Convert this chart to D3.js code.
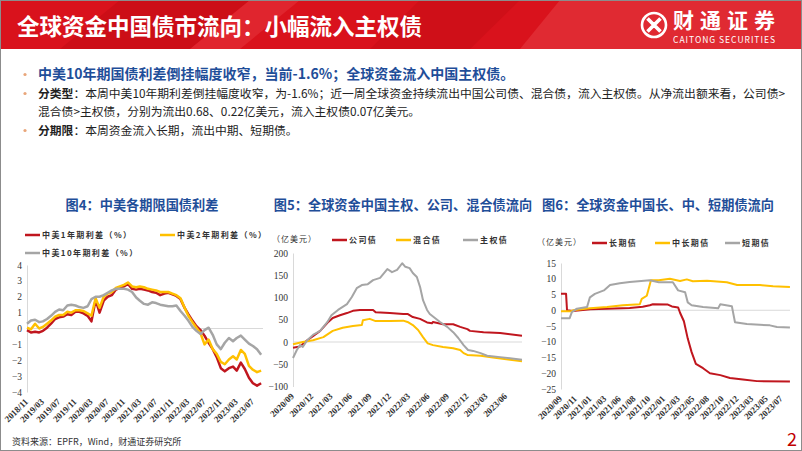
<!DOCTYPE html>
<html>
<head>
<meta charset="utf-8">
<script src="https://cdn.jsdelivr.net/npm/d3@7"></script>
<style>
  body { margin: 0; background: #fff; }
  svg { display: block; }
  text { font-family: "Noto Sans CJK SC", "Noto Sans", sans-serif; }
  .num text, text.num { font-family: "Liberation Serif", serif; }
</style>
</head>
<body>
<div id="slide"></div>
<script>
// ---------- data ----------
// Fig 4: monthly spreads, 2018/11 .. 2023/09
const spreadStart = '2018/11'
const spreadEnd = '2023/09'
const spread1y = [
  -0.1, -0.25, -0.2, -0.25, -0.15, 0.05, 0.3, 0.6, 0.7, 0.75,
  0.9, 0.85, 1.05, 1.05, 0.95, 0.8, 0.45, 1.8, 1.0, 1.75,
  2.0, 2.1, 2.45, 2.55, 2.65, 2.8, 2.5, 2.45, 2.5, 2.45,
  2.4, 2.3, 2.25, 2.1, 2.2, 2.25, 2.15, 2.05, 1.85, 1.3,
  0.9, 0.5, 0.15, -0.1, -0.45, -0.9, -1.3, -1.8, -2.5, -2.7,
  -2.5, -2.4, -2.65, -2.15, -2.55, -3.1, -3.45, -3.6, -3.45
]
const spread2y = [
  0.05, -0.05, 0.3, 0.0, 0.1, 0.3, 0.5, 0.75, 0.85, 0.85,
  1.05, 1.0, 1.15, 1.15, 1.1, 0.95, 0.8, 1.9, 1.3, 2.0,
  2.2, 2.3, 2.55, 2.65, 2.75, 2.9, 2.65, 2.6, 2.65, 2.6,
  2.5, 2.45, 2.4, 2.3, 2.3, 2.3, 2.2, 2.1, 1.9, 1.3,
  0.8, 0.4, 0.05, -0.3, -1.0, -0.7, -1.3, -1.6, -2.1, -2.25,
  -1.95, -1.75, -1.95, -1.35, -1.6, -2.35, -2.6, -2.75, -2.65
]
const spread10y = [
  0.3, 0.5, 0.55, 0.4, 0.45, 0.6, 0.8, 1.05, 1.2, 1.15,
  1.45, 1.5, 1.45, 1.35, 1.3, 1.4, 1.85, 2.0, 2.0, 2.1,
  2.25, 2.4, 2.5, 2.5, 2.5, 2.45, 2.3, 1.95, 1.75, 1.55,
  1.5, 1.65, 1.6, 1.5, 1.45, 1.4, 1.4, 1.45, 1.1, 0.8,
  0.5, 0.1, -0.15, -0.35, -0.1, 0.05, -0.4, -1.0, -1.3, -0.9,
  -0.6, -0.8, -0.6, -0.45, -0.7, -0.95, -1.1, -1.3, -1.65
]
const spreadTicks = ['2018/11', '2019/03', '2019/07', '2019/11', '2020/03', '2020/07', '2020/11',
  '2021/03', '2021/07', '2021/11', '2022/03', '2022/07', '2022/11', '2023/03', '2023/07']
const spreadY = [4, 3, 2, 1, 0, -1, -2, -3, -4]

// Fig 5: cumulative flows by type (亿美元)
const typeTicks = ['2020/09', '2020/12', '2021/03', '2021/06', '2021/09', '2021/12',
  '2022/03', '2022/06', '2022/09', '2022/12', '2023/03', '2023/06']
const typeY = [200, 150, 100, 50, 0, -50, -100]
const corpFlow = [
  ['2020-09-01', -13], ['2020-10-04', -10], ['2020-11-07', 4], ['2020-12-04', 13], ['2021-01-07', 25],
  ['2021-02-10', 43], ['2021-03-07', 54], ['2021-04-10', 60], ['2021-05-13', 65], ['2021-06-10', 70],
  ['2021-07-13', 72], ['2021-09-13', 72], ['2021-09-25', 67], ['2021-12-01', 65], ['2022-02-02', 63],
  ['2022-02-22', 63], ['2022-03-19', 56], ['2022-04-22', 52], ['2022-05-25', 44], ['2022-06-17', 42],
  ['2022-06-22', 45], ['2022-08-08', 40], ['2022-09-25', 40], ['2022-10-28', 34], ['2022-12-01', 29],
  ['2022-12-13', 25], ['2023-02-15', 22], ['2023-05-04', 20], ['2023-08-15', 14]
]
const hybridFlow = [
  ['2020-09-01', -5], ['2020-10-17', 0], ['2020-12-04', 4], ['2021-01-22', 11], ['2021-03-07', 25],
  ['2021-04-23', 32], ['2021-06-10', 36], ['2021-07-22', 38], ['2021-07-27', 49], ['2021-08-28', 52],
  ['2021-09-25', 47], ['2021-12-01', 47], ['2022-02-02', 48], ['2022-02-22', 45], ['2022-03-19', 38],
  ['2022-04-13', 27], ['2022-05-06', 11], ['2022-05-28', -3], ['2022-06-22', -7], ['2022-08-08', -11],
  ['2022-09-25', -14], ['2022-10-28', -18], ['2022-11-13', -25], ['2022-12-01', -29], ['2023-02-01', -31],
  ['2023-03-31', -35], ['2023-08-15', -43]
]
const sovFlow = [
  ['2020-09-01', -36], ['2020-09-19', -18], ['2020-10-04', -7], ['2020-10-17', -11], ['2020-11-07', 4],
  ['2020-12-04', 16], ['2021-01-07', 25], ['2021-02-10', 45], ['2021-03-01', 60], ['2021-04-01', 72],
  ['2021-05-13', 85], ['2021-06-05', 101], ['2021-06-28', 121], ['2021-07-22', 128], ['2021-08-19', 130],
  ['2021-09-13', 139], ['2021-10-16', 144], ['2021-11-19', 164], ['2021-12-11', 157], ['2022-01-04', 162],
  ['2022-01-28', 177], ['2022-02-12', 169], ['2022-03-04', 166], ['2022-03-19', 155], ['2022-04-07', 146],
  ['2022-04-22', 124], ['2022-05-06', 94], ['2022-05-25', 72], ['2022-06-07', 63], ['2022-07-01', 54],
  ['2022-07-25', 45], ['2022-08-28', 34], ['2022-09-25', 22], ['2022-10-19', 9], ['2022-11-13', -7],
  ['2022-12-04', -18], ['2022-12-28', -20], ['2023-02-01', -25], ['2023-03-04', -31], ['2023-05-04', -34],
  ['2023-08-15', -40]
]

// Fig 6: cumulative flows by term (亿美元)
const termTicks = ['2020/09', '2020/11', '2021/01', '2021/03', '2021/06', '2021/08', '2021/10', '2022/01',
  '2022/03', '2022/05', '2022/08', '2022/10', '2022/12', '2023/03', '2023/05', '2023/07']
const termY = [15, 10, 5, 0, -5, -10, -15, -20, -25]
const longFlow = [
  ['2020-09-01', 5.2], ['2020-09-22', 5.2], ['2020-09-26', 0], ['2020-10-20', -0.2], ['2021-01-01', 0.3],
  ['2021-03-13', 0.5], ['2021-07-12', 0.7], ['2021-09-04', 1.1], ['2021-10-05', 1.6], ['2021-10-24', 1.9],
  ['2022-01-17', 1.8], ['2022-02-02', 1.2], ['2022-02-27', 0.9], ['2022-03-07', -0.8], ['2022-03-23', -3.5],
  ['2022-04-08', -9], ['2022-04-24', -13.3], ['2022-05-17', -17], ['2022-07-01', -18.4], ['2022-08-09', -20],
  ['2022-09-21', -20.6], ['2022-10-31', -21.5], ['2023-01-04', -22], ['2023-03-21', -22.5], ['2023-08-05', -22.6]
]
const midFlow = [
  ['2020-09-01', -0.3], ['2020-10-14', -0.3], ['2020-10-20', 0], ['2020-12-30', 0.6], ['2021-03-13', 1.0],
  ['2021-06-14', 1.6], ['2021-08-23', 1.9], ['2021-08-31', 3.6], ['2021-09-21', 4.6], ['2021-10-12', 9.5],
  ['2021-11-30', 9.5], ['2022-01-25', 10], ['2022-03-07', 9.3], ['2022-04-04', 9.8], ['2022-04-29', 9.2],
  ['2022-07-26', 9.4], ['2022-10-18', 8.9], ['2022-11-30', 8.0], ['2023-04-03', 8.0], ['2023-05-27', 7.6],
  ['2023-08-05', 7.4]
]
const shortFlow = [
  ['2020-09-01', -2.5], ['2020-10-07', -2.5], ['2020-10-16', -0.6], ['2020-11-06', 0.5], ['2020-12-18', 1.0],
  ['2020-12-30', 4.1], ['2021-01-19', 5.2], ['2021-02-24', 6.3], ['2021-04-01', 8.0], ['2021-06-01', 8.6],
  ['2021-07-12', 9.0], ['2021-10-05', 9.5], ['2021-11-30', 8.9], ['2022-02-06', 8.9], ['2022-02-27', 6.3],
  ['2022-03-28', 5.7], ['2022-04-08', 2.5], ['2022-04-24', 1.6], ['2022-07-01', 1.0], ['2022-09-12', 0.6],
  ['2022-09-21', 1.9], ['2022-11-08', 1.3], ['2022-11-21', -3.8], ['2023-01-28', -4.4], ['2023-05-14', -4.8],
  ['2023-06-12', -5.3], ['2023-08-05', -5.5]
]

const RED = '#c0161e'
const YELLOW = '#ffc000'
const GRAY = '#a5a5a5'
const BLUE = '#1f4e99'

// ---------- page ----------
const parseMonth = d3.timeParse('%Y/%m')
const parseDay = d3.timeParse('%Y-%m-%d')

const svg = d3.select('#slide').append('svg')
  .attr('width', 802)
  .attr('height', 451)

svg.append('rect').attr('width', 802).attr('height', 451).attr('fill', '#fff')

// header band
const header = svg.append('g')
header.append('rect').attr('width', 802).attr('height', 49).attr('fill', '#d9121c')
header.append('polygon').attr('points', '120,0 250,0 190,49 60,49').attr('fill', '#cc0e17')
header.append('polygon').attr('points', '250,0 300,0 240,49 190,49').attr('fill', '#e0252e')
header.append('polygon').attr('points', '420,0 520,0 470,49 370,49').attr('fill', '#cf0f18')
header.append('polygon').attr('points', '560,0 802,0 802,49 520,49').attr('fill', '#e02a32')

header.append('text')
  .attr('x', 17).attr('y', 35)
  .attr('fill', '#fff')
  .attr('font-size', 22.5)
  .attr('font-weight', 700)
  .text('全球资金中国债市流向：小幅流入主权债')

// logo
const logo = header.append('g').attr('transform', 'translate(654,25)')
logo.append('circle').attr('r', 12).attr('fill', 'none').attr('stroke', '#fff').attr('stroke-width', 2.6)
logo.append('path').attr('d', 'M-6,-7 L0,-1 L6,-7 M-6,7 L0,1 L6,7 M-7,-6 L-1,0 L-7,6 M7,-6 L1,0 L7,6')
  .attr('fill', 'none').attr('stroke', '#fff').attr('stroke-width', 2.2)
header.append('text')
  .attr('x', 673).attr('y', 28)
  .attr('fill', '#fff').attr('font-size', 21).attr('font-weight', 700)
  .attr('textLength', 102)
  .text('财通证券')
header.append('text')
  .attr('x', 673).attr('y', 43)
  .attr('fill', '#fff').attr('font-size', 8.5)
  .attr('font-family', 'Roboto, sans-serif')
  .attr('textLength', 102)
  .text('CAITONG SECURITIES')

// bullet text block: each bullet is one text element, wrapped lines as tspans
const bullets = [
  { y: 79, size: 14, lines: [[{ t: '中美10年期国债利差倒挂幅度收窄，当前-1.6%；全球资金流入中国主权债。', bold: true, color: BLUE }]] },
  { y: 98, size: 11.8, lines: [
    [{ t: '分类型', bold: true }, { t: '：本周中美10年期利差倒挂幅度收窄，为-1.6%；近一周全球资金持续流出中国公司债、混合债，流入主权债。从净流出额来看，公司债>' }],
    [{ t: '混合债>主权债，分别为流出0.68、0.22亿美元，流入主权债0.07亿美元。' }]
  ] },
  { y: 135, size: 11.8, lines: [[{ t: '分期限', bold: true }, { t: '：本周资金流入长期，流出中期、短期债。' }]] }
]
bullets.forEach(b => {
  svg.append('circle').attr('cx', 25).attr('cy', b.y - 4.5).attr('r', 1.6).attr('fill', '#e9a67a')
  const t = svg.append('text').attr('x', 38).attr('y', b.y).attr('font-size', b.size).attr('fill', '#222')
  b.lines.forEach((parts, li) => {
    parts.forEach((p, pi) => {
      const span = t.append('tspan')
        .attr('font-weight', p.bold ? 700 : 400)
        .attr('fill', p.color || '#222')
        .text(p.t)
      if (li > 0 && pi === 0) span.attr('x', 38).attr('dy', 17.5)
    })
  })
})

// ---------- chart helpers ----------
function drawTitle(cx, text) {
  svg.append('text')
    .attr('x', cx).attr('y', 210)
    .attr('text-anchor', 'middle')
    .attr('font-size', 13.2).attr('font-weight', 700)
    .attr('fill', BLUE)
    .text(text)
}

function drawAxes(x, y, tickLabels, yTicks, x0, x1) {
  const yAxis = d3.axisLeft(y).tickValues(yTicks).tickSize(0).tickPadding(5)
  const gy = svg.append('g')
    .attr('class', 'num')
    .attr('transform', 'translate(' + x0 + ',0)')
    .call(yAxis)
  gy.select('.domain').attr('stroke', '#d9d9d9')
  gy.selectAll('text').attr('font-size', 9.5).attr('fill', '#333')

  svg.append('line')
    .attr('x1', x0).attr('x2', x1)
    .attr('y1', y(0)).attr('y2', y(0))
    .attr('stroke', '#d9d9d9')

  const xAxis = d3.axisBottom(x)
    .tickValues(tickLabels.map(parseMonth))
    .tickFormat((d, i) => tickLabels[i])
    .tickSize(0)
  const gx = svg.append('g')
    .attr('class', 'num')
    .attr('transform', 'translate(0,' + y.range()[0] + ')')
    .call(xAxis)
  gx.select('.domain').remove()
  gx.selectAll('text')
    .attr('x', 0).attr('y', 0).attr('dy', '0.35em')
    .attr('text-anchor', 'end')
    .attr('font-size', 9)
    .attr('font-weight', 700)
    .attr('fill', '#333')
    .attr('transform', 'translate(-1,8) rotate(-45)')
}

function drawLine(data, x, y, color, width) {
  const line = d3.line()
    .x(d => x(d[0]))
    .y(d => y(d[1]))
  svg.append('path')
    .datum(data)
    .attr('d', line)
    .attr('fill', 'none')
    .attr('stroke', color)
    .attr('stroke-width', width)
    .attr('stroke-linejoin', 'round')
}

function drawLegend(items) {
  items.forEach(it => {
    svg.append('line')
      .attr('x1', it.x).attr('x2', it.x + 15)
      .attr('y1', it.y).attr('y2', it.y)
      .attr('stroke', it.color).attr('stroke-width', 2.5)
    svg.append('text')
      .attr('x', it.x + 17).attr('y', it.y + 3)
      .attr('font-size', 8).attr('font-weight', 700)
      .attr('letter-spacing', 1.4)
      .attr('fill', '#333')
      .text(it.name)
  })
}

function unitLabel(x, y) {
  svg.append('text')
    .attr('x', x).attr('y', y)
    .attr('font-size', 8).attr('letter-spacing', 1)
    .attr('fill', '#333')
    .text('（亿美元）')
}

// ---------- Fig 4 ----------
drawTitle(142, '图4：中美各期限国债利差')
const months = d3.timeMonth.range(parseMonth(spreadStart), d3.timeMonth.offset(parseMonth(spreadEnd), 1))
const x4 = d3.scaleTime()
  .domain([parseMonth(spreadStart), parseDay('2023-09-15')])
  .range([27, 263])
const y4 = d3.scaleLinear().domain([-4, 4]).range([392, 265])
drawAxes(x4, y4, spreadTicks, spreadY, 27, 263)
drawLine(months.map((d, i) => [d, spread1y[i]]), x4, y4, RED, 2.5)
drawLine(months.map((d, i) => [d, spread2y[i]]), x4, y4, YELLOW, 2.5)
drawLine(months.map((d, i) => [d, spread10y[i]]), x4, y4, GRAY, 2.5)
drawLegend([
  { name: '中美1年期利差（%）', color: RED, x: 25, y: 235 },
  { name: '中美2年期利差（%）', color: YELLOW, x: 160, y: 235 },
  { name: '中美10年期利差（%）', color: GRAY, x: 25, y: 253 }
])

// ---------- Fig 5 ----------
drawTitle(403, '图5：全球资金中国主权、公司、混合债流向')
const x5 = d3.scaleTime()
  .domain([parseMonth('2020/09'), parseDay('2023-08-15')])
  .range([293, 522])
const y5 = d3.scaleLinear().domain([-100, 200]).range([386.5, 253])
drawAxes(x5, y5, typeTicks, typeY, 293, 522)
const toPts = arr => arr.map(d => [parseDay(d[0]), d[1]])
drawLine(toPts(corpFlow), x5, y5, RED, 2)
drawLine(toPts(hybridFlow), x5, y5, YELLOW, 2)
drawLine(toPts(sovFlow), x5, y5, GRAY, 2)
unitLabel(272, 242)
drawLegend([
  { name: '公司债', color: RED, x: 332, y: 240 },
  { name: '混合债', color: YELLOW, x: 396, y: 240 },
  { name: '主权债', color: GRAY, x: 463, y: 240 }
])

// ---------- Fig 6 ----------
drawTitle(658, '图6：全球资金中国长、中、短期债流向')
// labels on this axis are evenly spaced, so map each tick date to an even step
const termDates = termTicks.map(parseMonth)
const x6 = d3.scaleTime()
  .domain(termDates)
  .range(termDates.map((d, i) => 561 + i * 14.7))
const y6 = d3.scaleLinear().domain([-25, 15]).range([389, 263])
drawAxes(x6, y6, termTicks, termY, 561, 790)
drawLine(toPts(longFlow), x6, y6, RED, 2)
drawLine(toPts(midFlow), x6, y6, YELLOW, 2)
drawLine(toPts(shortFlow), x6, y6, GRAY, 2)
unitLabel(537, 245)
drawLegend([
  { name: '长期债', color: RED, x: 592, y: 243 },
  { name: '中长期债', color: YELLOW, x: 655, y: 243 },
  { name: '短期债', color: GRAY, x: 725, y: 243 }
])

// ---------- footer ----------
svg.append('text')
  .attr('x', 12).attr('y', 445)
  .attr('font-size', 9).attr('fill', '#333')
  .text('资料来源：EPFR，Wind，财通证券研究所')
svg.append('text')
  .attr('x', 797).attr('y', 446)
  .attr('text-anchor', 'end')
  .attr('font-size', 18)
  .attr('font-family', 'Liberation Sans, sans-serif')
  .attr('fill', '#c00000')
  .text('2')

// slide frame
svg.append('rect')
  .attr('x', 0.5).attr('y', 0.5).attr('width', 801).attr('height', 450)
  .attr('fill', 'none').attr('stroke', '#8c8c8c')
</script>
</body>
</html>
